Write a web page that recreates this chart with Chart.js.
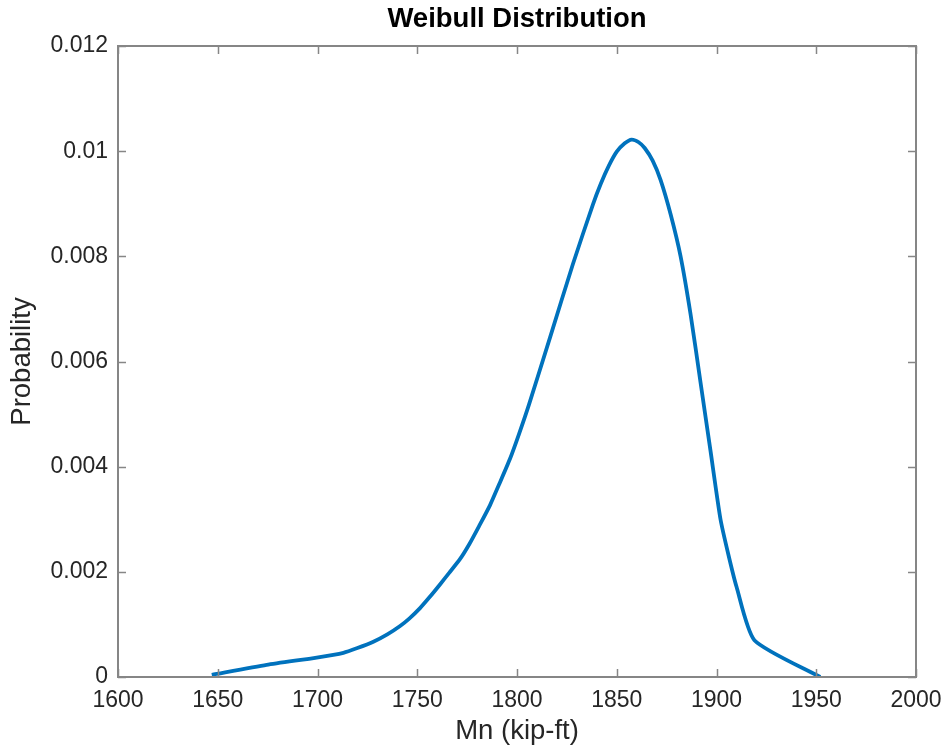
<!DOCTYPE html>
<html>
<head>
<meta charset="utf-8">
<title>Weibull Distribution</title>
<script src="https://cdn.jsdelivr.net/npm/chart.js@4.4.1/dist/chart.umd.min.js"></script>
<style>
  html, body { margin: 0; padding: 0; background: #fff; }
  #wrap { width: 946px; height: 753px; }
</style>
</head>
<body>
<div id="wrap"><canvas id="weibullChart" width="946" height="753"></canvas></div>
<script>
// Mn values (kip-ft) and probabilities
const mnValues = [1647, 1674.5, 1699.6, 1713, 1720, 1728, 1735, 1741.4, 1746, 1751.4,
  1756, 1761.4, 1766, 1771.4, 1776, 1781, 1786.5, 1791, 1796.5, 1801,
  1806, 1816.5, 1828, 1838, 1842, 1846, 1850, 1854, 1857.5, 1861,
  1864, 1868, 1872, 1877, 1882, 1887, 1892, 1897, 1902, 1906,
  1910, 1919, 1952];
const probValues = [0.00004, 0.00023, 0.00037, 0.00046, 0.00055, 0.00067, 0.00081, 0.00097, 0.00111, 0.00131,
  0.00151, 0.00176, 0.00198, 0.00224, 0.00252, 0.00287, 0.00327, 0.00366, 0.00415, 0.00462,
  0.00518, 0.00645, 0.00785, 0.00898, 0.00938, 0.00972, 0.00999, 0.01015, 0.01022, 0.01017,
  0.01006, 0.00982, 0.00945, 0.0088, 0.0080, 0.0069, 0.0056, 0.0043, 0.0030, 0.00232,
  0.00172, 0.0007, 0];

const xTicks = [1600, 1650, 1700, 1750, 1800, 1850, 1900, 1950, 2000];
const yTicks = [0, 0.002, 0.004, 0.006, 0.008, 0.01, 0.012];

const axisColor = '#868686';
const textColor = '#262626';
const fontFamily = '"Liberation Sans", Arial, Helvetica, sans-serif';

// matlab-style box with inward ticks on all four sides
const boxTicks = {
  id: 'boxTicks',
  afterDraw(chart) {
    const { ctx, chartArea: a, scales: { x, y } } = chart;
    const len = 8;
    ctx.save();
    ctx.strokeStyle = axisColor;
    ctx.lineWidth = 2;
    ctx.strokeRect(a.left, a.top, a.right - a.left, a.bottom - a.top);
    ctx.lineWidth = 1.5;
    ctx.beginPath();
    xTicks.forEach(v => {
      const px = Math.round(x.getPixelForValue(v)) + 0.5;
      ctx.moveTo(px, a.bottom); ctx.lineTo(px, a.bottom - len);
      ctx.moveTo(px, a.top); ctx.lineTo(px, a.top + len);
    });
    yTicks.forEach(v => {
      const py = Math.round(y.getPixelForValue(v)) + 0.5;
      ctx.moveTo(a.left, py); ctx.lineTo(a.left + len, py);
      ctx.moveTo(a.right, py); ctx.lineTo(a.right - len, py);
    });
    ctx.stroke();
    ctx.restore();
  }
};

new Chart(document.getElementById('weibullChart').getContext('2d'), {
  type: 'line',
  data: {
    datasets: [{
      label: 'Weibull',
      data: mnValues.map((m, i) => ({ x: m, y: probValues[i] })),
      borderColor: '#0072BD',
      borderWidth: 3.8,
      pointRadius: 0,
      fill: false,
      tension: 0.2
    }]
  },
  options: {
    responsive: false,
    animation: false,
    layout: { padding: { left: 0, right: 30, top: 0, bottom: 0 } },
    plugins: {
      legend: { display: false },
      tooltip: { enabled: false },
      title: {
        display: true,
        fullSize: false,
        text: 'Weibull Distribution',
        color: '#000',
        font: { family: fontFamily, size: 27.5, weight: 'bold' },
        padding: { top: 2.5, bottom: 10.5 }
      }
    },
    scales: {
      x: {
        type: 'linear',
        min: 1600,
        max: 2000,
        afterBuildTicks: s => { s.ticks = xTicks.map(v => ({ value: v })); },
        afterFit: s => { s.height = 76; s.paddingLeft = 0; s.paddingRight = 0; },
        grid: { display: false, drawTicks: false },
        border: { display: false },
        ticks: {
          color: textColor,
          padding: 10,
          maxRotation: 0,
          font: { family: fontFamily, size: 23 },
          callback: v => String(v)
        },
        title: {
          display: true,
          text: 'Mn (kip-ft)',
          color: textColor,
          font: { family: fontFamily, size: 27.5 },
          padding: { top: 0, bottom: 5.5 }
        }
      },
      y: {
        min: 0,
        max: 0.012,
        afterBuildTicks: s => { s.ticks = yTicks.map(v => ({ value: v })); },
        afterFit: s => { s.width = 118; s.paddingTop = 0; s.paddingBottom = 0; },
        grid: { display: false, drawTicks: false },
        border: { display: false },
        ticks: {
          color: textColor,
          padding: 10,
          font: { family: fontFamily, size: 23 },
          callback: v => String(Number(v.toFixed(3)))
        },
        title: {
          display: true,
          text: 'Probability',
          color: textColor,
          font: { family: fontFamily, size: 27.5 },
          padding: { top: 5.5, bottom: 0 }
        }
      }
    }
  },
  plugins: [boxTicks]
});
</script>
</body>
</html>
